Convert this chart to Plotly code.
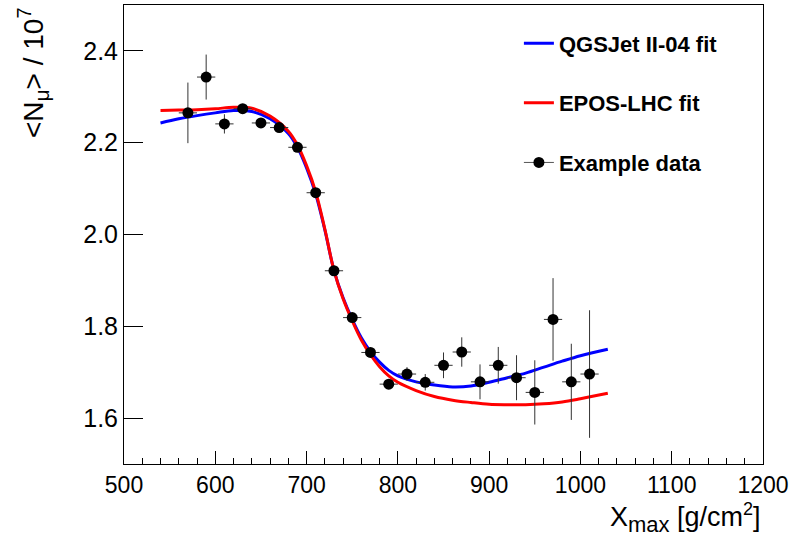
import plotly.graph_objects as go

# Example data points
x_data = [570, 590, 610, 630, 650, 670, 690, 710, 730, 750, 770, 790,
          810, 830, 850, 870, 890, 910, 930, 950, 970, 990, 1010]
y_data = [2.265, 2.343, 2.241, 2.274, 2.243, 2.233, 2.190, 2.091, 1.921, 1.819, 1.743, 1.674,
          1.696, 1.678, 1.715, 1.744, 1.679, 1.715, 1.688, 1.656, 1.815, 1.679, 1.696]
y_err = [0.066, 0.049, 0.021, 0.010, 0.006, 0.010, 0.010, 0.008, 0.008, 0.008, 0.008, 0.010,
         0.015, 0.018, 0.028, 0.032, 0.038, 0.040, 0.049, 0.070, 0.090, 0.083, 0.139]
x_err = [10] * len(x_data)

# Fit curves
x_fit = [540, 560, 580, 600, 620, 640, 660, 680, 690, 700, 710, 720, 730, 740, 750,
         760, 770, 780, 790, 800, 820, 840, 860, 880, 900, 920, 940, 960, 980, 1000, 1030]
y_qgsjet = [2.243, 2.252, 2.259, 2.265, 2.270, 2.268, 2.252, 2.220, 2.190, 2.145, 2.088,
            2.010, 1.922, 1.862, 1.815, 1.775, 1.745, 1.722, 1.704, 1.692, 1.679, 1.672,
            1.668, 1.670, 1.678, 1.688, 1.698, 1.711, 1.724, 1.736, 1.750]
y_epos = [2.270, 2.271, 2.272, 2.274, 2.277, 2.275, 2.258, 2.225, 2.195, 2.150, 2.093,
          2.012, 1.922, 1.860, 1.812, 1.770, 1.738, 1.712, 1.692, 1.678, 1.660, 1.647,
          1.639, 1.634, 1.630, 1.629, 1.629, 1.631, 1.635, 1.642, 1.654]

y_ticks = [1.6, 1.8, 2.0, 2.2, 2.4]
y_ticktext = ["1.6", "1.8", "2.0", "2.2", "2.4"]

FONT = "Liberation Sans, Arial, sans-serif"

fig = go.Figure()
fig.add_trace(go.Scatter(x=x_fit, y=y_qgsjet, mode="lines", name="<b>QGSJet II-04 fit</b>",
                         line=dict(color="#0000ff", width=3, shape="spline"),
                         legendgroup="a"))
fig.add_trace(go.Scatter(x=x_fit, y=y_epos, mode="lines", name="<b>EPOS-LHC fit</b>",
                         line=dict(color="#ff0000", width=3, shape="spline"),
                         legendgroup="b"))
fig.add_trace(go.Scatter(x=x_data, y=y_data, mode="markers", showlegend=False,
                         marker=dict(color="black", size=11),
                         error_y=dict(type="data", array=y_err, color="#333333", thickness=1, width=0),
                         error_x=dict(type="data", array=x_err, color="#333333", thickness=1, width=0)))
fig.add_trace(go.Scatter(x=[None], y=[None], mode="lines+markers", name="<b>Example data</b>",
                         line=dict(color="#555555", width=1),
                         marker=dict(color="black", size=11),
                         legendgroup="c"))

fig.update_layout(
    width=797, height=545,
    margin=dict(l=123.5, r=34, t=5, b=81),
    paper_bgcolor="white", plot_bgcolor="white",
    font=dict(family=FONT, size=22, color="black"),
    legend=dict(x=0.618, y=0.962, xanchor="left", yanchor="top",
                bgcolor="rgba(0,0,0,0)", borderwidth=0,
                font=dict(family=FONT, size=22, color="black"),
                tracegroupgap=28),
    xaxis=dict(range=[500, 1200], dtick=100, tick0=500,
               ticks="inside", ticklen=13, tickwidth=1, tickcolor="black",
               minor=dict(dtick=20, ticks="inside", ticklen=6, tickcolor="black", tickwidth=1),
               showline=True, linecolor="black", linewidth=1, mirror=True,
               showgrid=False, zeroline=False,
               tickfont=dict(family=FONT, size=23, color="black")),
    yaxis=dict(range=[1.5, 2.5], tickvals=y_ticks, ticktext=y_ticktext,
               ticks="inside", ticklen=19, tickwidth=1, tickcolor="black",
               showline=True, linecolor="black", linewidth=1, mirror=True,
               showgrid=False, zeroline=False,
               tickfont=dict(family=FONT, size=25, color="black")),
    annotations=[
        dict(text="X<sub><span style='font-size:22px'>max</span></sub> [g/cm<sup><span style='font-size:18px'>2</span></sup>]",
             xref="paper", yref="paper",
             x=1.0, y=-0.072, xanchor="right", yanchor="top", showarrow=False,
             font=dict(family=FONT, size=27, color="black")),
        dict(text="&lt;N<sub><span style='font-size:21px'>μ</span></sub>&gt; / 10<sup><span style='font-size:20px'>7</span></sup>",
             xref="paper", yref="paper",
             x=-0.143, y=1.0, xanchor="center", yanchor="top", textangle=-90, showarrow=False,
             font=dict(family=FONT, size=28, color="black")),
    ],
)

fig.write_html("out.html", config={"displayModeBar": False},
               post_script="document.body.style.margin='0';document.body.style.overflow='hidden';")
